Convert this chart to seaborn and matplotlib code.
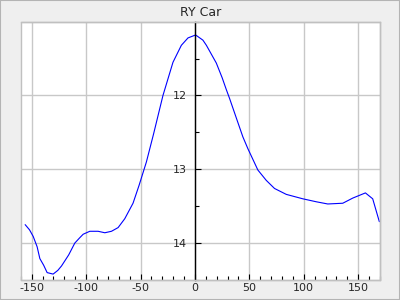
import matplotlib
matplotlib.use("Agg")
import matplotlib.pyplot as plt
import seaborn as sns
import pandas as pd
from matplotlib.ticker import MultipleLocator
from matplotlib.patches import Rectangle

title = "RY Car"
phase = [-156, -152, -148.6, -145, -142.5, -139, -135.8, -130.3, -126, -122.6,
         -116, -110.4, -106, -102.7, -96.6, -89, -82.8, -76.7, -70.6, -64.5,
         -56.9, -51.4, -44.6, -38, -29.4, -20.2, -12.5, -6.4,
         0.6, 7.3, 10.5, 19.6, 25, 28.8, 31.8, 40, 44, 48.6,
         57.8, 65.5, 73.1, 83.9, 99.1, 111.4, 122, 135.8, 145, 156.6,
         163.3, 169.4]
mag = [13.75, 13.82, 13.91, 14.05, 14.21, 14.30, 14.40, 14.42, 14.37, 14.31,
       14.16, 14.00, 13.93, 13.88, 13.84, 13.84, 13.86, 13.84, 13.79, 13.67,
       13.46, 13.22, 12.90, 12.52, 12.00, 11.55, 11.32, 11.22,
       11.18, 11.25, 11.32, 11.56, 11.76, 11.92, 12.04, 12.39, 12.56, 12.72,
       13.01, 13.15, 13.26, 13.34, 13.40, 13.44, 13.47, 13.46, 13.39, 13.32,
       13.40, 13.71]
x_ticks = [-150, -100, -50, 0, 50, 100, 150]
y_ticks = [12, 13, 14]

df = pd.DataFrame({"phase": phase, "mag": mag})

sns.set_style("white")
plt.rcParams['font.family'] = ['DejaVu Sans']

fig = plt.figure(figsize=(4, 3), dpi=100, facecolor="#efefef")
ax = fig.add_axes([0.052, 0.0667, 0.898, 0.861])
ax.set_facecolor("white")

sns.lineplot(data=df, x="phase", y="mag", ax=ax, color="#0000ff", linewidth=0.8,
             sort=False, estimator=None)

ax.set_xlim(-160, 170)
ax.set_ylim(14.5, 11.0)
ax.set_xticks(x_ticks)
ax.set_yticks(y_ticks)
ax.set_xticklabels([str(v) for v in x_ticks])
ax.set_yticklabels([str(v) for v in y_ticks])
ax.xaxis.set_minor_locator(MultipleLocator(10))
ax.yaxis.set_minor_locator(MultipleLocator(0.5))
ax.grid(True, which="major", color="#c8c8c8", linewidth=1.0)
ax.set_axisbelow(True)

for s in ["top", "right", "bottom"]:
    ax.spines[s].set_color("#c0c0c0")
    ax.spines[s].set_linewidth(1.0)
ax.spines["left"].set_position(("data", 0))
ax.spines["left"].set_color("black")
ax.spines["left"].set_linewidth(1.0)
ax.spines["left"].set_zorder(3)

ax.add_patch(Rectangle((0, 0), 1, 1, transform=ax.transAxes, fill=False,
                       edgecolor="#c0c0c0", linewidth=1.0, zorder=4, clip_on=False))

ax.tick_params(axis="x", which="major", direction="in", length=4.5, width=0.8,
               color="black", labelsize=8, pad=2, bottom=True)
ax.tick_params(axis="x", which="minor", direction="in", length=3, width=0.8,
               color="black", bottom=True)
ax.tick_params(axis="y", which="major", direction="in", length=4.5, width=0.8,
               color="black", labelsize=8, pad=6, left=True)
ax.tick_params(axis="y", which="minor", direction="in", length=3, width=0.8,
               color="black", left=True)

ax.set_xlabel("")
ax.set_ylabel("")
ax.set_title(title, fontsize=9, pad=4)

fig.patches.append(Rectangle((0, 0), 1, 1, transform=fig.transFigure, fill=False,
                             edgecolor="#b4b4b4", linewidth=1.5))

fig.savefig("out.png", dpi=100, facecolor=fig.get_facecolor())
